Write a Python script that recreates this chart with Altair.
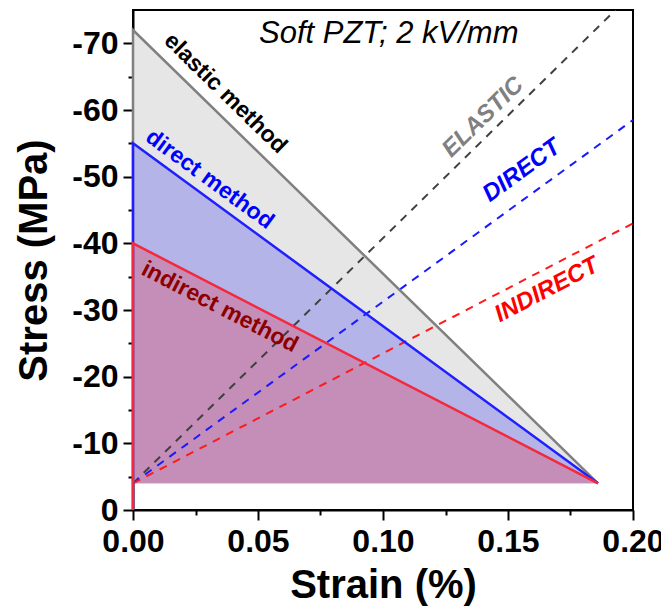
import altair as alt
import pandas as pd

# ---- data ----
methods = ["elastic", "direct", "indirect"]
start_stress = [-72, -55, -40]          # stress (MPa) at zero strain
end_strain = 0.186                      # common end point (strain %)
end_stress = -4                         # common end point (MPa)
zero_stress = 0

dash_start = (0.0, -4)
dash_end_strain = [0.193, 0.2, 0.2]
dash_end_stress = [-75, -58.5, -43]

fill_colors = ["#e6e6e6", "#b4b4e8", "#c58eb8"]
line_colors = ["#808080", "#2020ff", "#f5283c"]
dash_colors = ["#404040", "#1a1aff", "#ff1a1a"]

method_labels = ["elastic method", "direct method", "indirect method"]
method_label_x = [0.037, 0.0307, 0.0347]
method_label_y = [-62.5, -49.6, -30.45]
method_label_angle = [44.3, 36.2, 27.3]
method_label_colors = ["#000000", "#0000ff", "#8b0000"]

tag_labels = ["ELASTIC", "DIRECT", "INDIRECT"]
tag_x = [0.14, 0.1555, 0.1655]
tag_y = [-58.9, -50.9, -33.0]
tag_angle = [315.6, 324.0, 332.3]
tag_colors = ["#808080", "#0000ff", "#ff0000"]

title_text = "Soft PZT; 2 kV/mm"
title_x = 0.1023
title_y = -70.0

x_major = [0.0, 0.05, 0.10, 0.15, 0.20]
x_minor = [0.025, 0.075, 0.125, 0.175]
y_major = [0, -10, -20, -30, -40, -50, -60, -70]
y_minor = [-5, -15, -25, -35, -45, -55, -65]

FONT = "Liberation Sans"

xs = alt.Scale(domain=[0, 0.2], nice=False, zero=False)
ys = alt.Scale(domain=[-75, 0], reverse=True, nice=False, zero=False)

x_axis = alt.Axis(values=x_major, format=".2f", title="Strain (%)", orient="bottom",
                  tickSize=10, labelPadding=6, titlePadding=8, grid=False, labelFlush=False)
y_axis = alt.Axis(values=y_major, labelExpr="'' + datum.value", title="Stress (MPa)", orient="left",
                  tickSize=10, labelPadding=5, titlePadding=17, grid=False, labelFlush=False)


def X(first=False):
    return alt.X("x:Q", scale=xs, axis=x_axis if first else None)


def Y(first=False):
    return alt.Y("y:Q", scale=ys, axis=y_axis if first else None)


layers = []

# filled areas
for i, m in enumerate(methods):
    df = pd.DataFrame({"x": [0.0, end_strain], "y": [start_stress[i], end_stress],
                       "b": [end_stress, end_stress]})
    layers.append(alt.Chart(df).mark_area(color=fill_colors[i], opacity=1).encode(
        x=X(i == 0), y=Y(i == 0), y2="b:Q"))

# dashed lines
for i, m in enumerate(methods):
    df = pd.DataFrame({"x": [dash_start[0], dash_end_strain[i]],
                       "y": [dash_start[1], dash_end_stress[i]]})
    layers.append(alt.Chart(df).mark_line(color=dash_colors[i], strokeWidth=2,
                                          strokeDash=[8, 7], clip=True).encode(x=X(), y=Y()))

# solid lines
for i, m in enumerate(methods):
    df = pd.DataFrame({"x": [0.0, 0.0, end_strain], "y": [zero_stress, start_stress[i], end_stress],
                       "o": [0, 1, 2]})
    layers.append(alt.Chart(df).mark_line(color=line_colors[i], strokeWidth=2.5).encode(
        x=X(), y=Y(), order="o:Q"))

# method labels
for i in range(3):
    df = pd.DataFrame({"x": [method_label_x[i]], "y": [method_label_y[i]], "t": [method_labels[i]]})
    layers.append(alt.Chart(df).mark_text(font=FONT, fontSize=23, fontWeight="bold",
                                          color=method_label_colors[i], angle=method_label_angle[i],
                                          align="center", baseline="middle").encode(
        x=X(), y=Y(), text="t:N"))

# tags
for i in range(3):
    df = pd.DataFrame({"x": [tag_x[i]], "y": [tag_y[i]], "t": [tag_labels[i]]})
    layers.append(alt.Chart(df).mark_text(font=FONT, fontSize=24, fontWeight="bold", fontStyle="italic",
                                          color=tag_colors[i], angle=tag_angle[i],
                                          align="center", baseline="middle").encode(
        x=X(), y=Y(), text="t:N"))

# title inside plot
df_t = pd.DataFrame({"x": [title_x], "y": [title_y], "t": [title_text]})
layers.append(alt.Chart(df_t).mark_text(font=FONT, fontSize=31, fontStyle="italic", color="black",
                                        align="center", baseline="alphabetic").encode(
    x=X(), y=Y(), text="t:N"))

# minor ticks (second axis set)
df_minor = pd.DataFrame({"x": [0.0], "y": [0.0]})
layers.append(alt.Chart(df_minor).mark_point(opacity=0).encode(
    x=alt.X("x:Q", scale=xs, axis=alt.Axis(values=x_minor, orient="bottom", labels=False, domain=False,
                                           tickSize=5, title=None, grid=False)),
    y=alt.Y("y:Q", scale=ys, axis=alt.Axis(values=y_minor, orient="left", labels=False, domain=False,
                                           tickSize=5, title=None, grid=False))))

chart = alt.layer(*layers).resolve_axis(x="independent", y="independent").properties(
    width=500, height=500,
    autosize=alt.AutoSizeParams(type="none"),
    padding={"left": 125, "top": 2, "right": 28, "bottom": 96},
).configure_view(stroke="black", strokeWidth=2).configure_axis(
    labelFont=FONT, labelFontSize=32, labelFontWeight="bold", labelColor="black",
    titleFont=FONT, titleFontSize=40, titleFontWeight="bold", titleColor="black",
    domainColor="black", domainWidth=2, tickColor="black", tickWidth=2,
)

chart.save("out.html", embed_options={"renderer": "svg", "actions": False})
